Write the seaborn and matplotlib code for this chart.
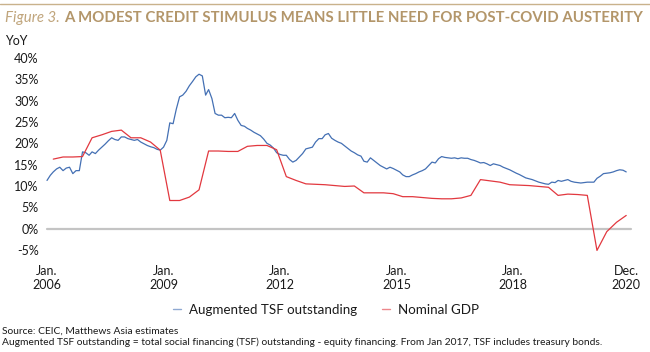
import numpy as np
import pandas as pd
import matplotlib
matplotlib.use("Agg")
import matplotlib.pyplot as plt
import matplotlib.dates as mdates
from matplotlib.lines import Line2D
import seaborn as sns

# ---------------- data ----------------
tsf_start = "2006-01-01"
tsf_yoy = [
    # 2006
    11.3, 12.5, 13.3, 14.0, 14.4, 13.6, 14.2, 14.4, 12.9, 13.6, 13.6, 18.0,
    # 2007
    17.8, 17.2, 18.0, 17.6, 18.4, 19.1, 19.8, 20.6, 21.3, 20.9, 20.7, 21.5,
    # 2008
    21.5, 21.1, 20.9, 20.7, 20.9, 20.3, 19.9, 19.5, 19.2, 19.0, 18.6, 18.4,
    # 2009
    19.1, 20.7, 24.8, 24.6, 28.0, 30.9, 31.3, 32.2, 33.5, 34.5, 35.6, 36.2,
    # 2010
    35.8, 31.3, 32.6, 30.5, 27.0, 26.6, 26.6, 26.0, 26.1, 26.0, 27.0, 25.4,
    # 2011
    24.2, 24.0, 23.5, 23.1, 22.6, 22.2, 21.8, 21.0, 20.0, 19.6, 18.9, 17.8,
    # 2012
    17.4, 17.2, 17.2, 16.2, 15.6, 16.0, 16.8, 17.6, 18.7, 18.9, 19.1, 20.3,
    # 2013
    21.1, 21.1, 22.0, 22.3, 21.2, 20.7, 20.3, 20.0, 19.4, 18.8, 18.2, 17.8,
    # 2014
    17.3, 17.0, 15.8, 15.6, 16.6, 16.0, 15.4, 14.8, 14.4, 14.0, 14.4, 14.1,
    # 2015
    13.7, 13.3, 12.6, 12.2, 12.2, 12.6, 12.9, 13.3, 13.6, 14.0, 14.8, 15.6,
    # 2016
    15.4, 16.4, 16.9, 16.7, 16.6, 16.5, 16.6, 16.4, 16.6, 16.5, 16.5, 16.2,
    # 2017
    16.0, 15.7, 15.4, 15.5, 15.2, 14.8, 15.2, 15.0, 14.8, 14.4, 14.1, 13.8,
    # 2018
    13.4, 13.0, 12.7, 12.3, 11.9, 11.7, 11.5, 11.2, 10.9, 10.7, 10.5, 10.4,
    # 2019
    10.9, 10.8, 11.3, 11.1, 11.3, 11.5, 11.1, 10.9, 10.8, 10.7, 10.8, 10.9,
    # 2020
    10.9, 10.9, 11.8, 12.3, 12.9, 13.0, 13.1, 13.3, 13.6, 13.8, 13.7, 13.3,
]

gdp_start = "2006-03-01"
gdp_yoy = [
    16.3, 16.8, 16.8, 16.9,   # 2006
    21.3, 22.0, 22.8, 23.1,   # 2007
    21.3, 21.3, 20.3, 18.4,   # 2008
    6.6, 6.6, 7.4, 9.1,       # 2009
    18.2, 18.2, 18.1, 18.1,   # 2010
    19.3, 19.5, 19.5, 18.5,   # 2011
    12.2, 11.3, 10.5, 10.4,   # 2012
    10.3, 10.1, 9.9, 10.0,    # 2013
    8.4, 8.4, 8.4, 8.2,       # 2014
    7.5, 7.5, 7.3, 7.1,       # 2015
    7.0, 7.0, 7.2, 7.8,       # 2016
    11.5, 11.2, 10.9, 10.3,   # 2017
    10.2, 10.1, 9.9, 9.7,     # 2018
    7.8, 8.1, 8.0, 7.8,       # 2019
    -5.1, -0.7, 1.5, 3.1,     # 2020
]

series_names = ["Augmented TSF outstanding", "Nominal GDP"]
tick_dates = ["2006-01-01", "2009-01-01", "2012-01-01", "2015-01-01", "2018-01-01", "2020-12-01"]
tick_labels = ["Jan.\n2006", "Jan.\n2009", "Jan.\n2012", "Jan.\n2015", "Jan.\n2018", "Dec.\n2020"]
y_ticks = [-5, 0, 5, 10, 15, 20, 25, 30, 35, 40]

title_lead = "Figure 3."
title_main = "A MODEST CREDIT STIMULUS MEANS LITTLE NEED FOR POST-COVID AUSTERITY"
source_text = "Source: CEIC, Matthews Asia estimates"
note_text = ("Augmented TSF outstanding = total social financing (TSF) outstanding - equity financing. "
             "From Jan 2017, TSF includes treasury bonds.")

# ---------------- frame ----------------
tsf_df = pd.DataFrame({
    "date": pd.date_range(tsf_start, periods=len(tsf_yoy), freq="MS"),
    "value": tsf_yoy,
    "series": series_names[0],
})
gdp_df = pd.DataFrame({
    "date": pd.date_range(gdp_start, periods=len(gdp_yoy), freq="3MS"),
    "value": gdp_yoy,
    "series": series_names[1],
})
df = pd.concat([tsf_df, gdp_df], ignore_index=True)

# ---------------- style ----------------
sns.set_theme(style="white")
FONT = "Lato"
plt.rcParams["font.family"] = [FONT, "DejaVu Sans"]

W, H = 650, 352
fig = plt.figure(figsize=(W / 100, H / 100), dpi=100)
fig.patch.set_facecolor("white")

def fx(px):
    return px / W

def fy(py):
    return 1 - py / H

ax_left, ax_right, ax_top, ax_bottom = 47, 631, 58, 250
ax = fig.add_axes([fx(ax_left), fy(ax_bottom), fx(ax_right - ax_left), (ax_bottom - ax_top) / H])
ax.set_facecolor("white")

palette = {series_names[0]: "#4470b4", series_names[1]: "#e2383f"}

ax.axhline(0, color="#c4c4c4", lw=1.6, zorder=1)

sns.lineplot(data=df, x="date", y="value", hue="series", palette=palette,
             linewidth=0.9, legend=False, ax=ax, zorder=3)
for ln in ax.lines:
    ln.set_clip_on(False)

ax.set_xlim(pd.Timestamp("2006-01-01"), pd.Timestamp("2021-01-15"))
ax.set_ylim(-5, 40)
ax.set_yticks(y_ticks)
ax.set_yticklabels([f"{v}%" for v in y_ticks])
ax.set_xticks([mdates.date2num(pd.Timestamp(d)) for d in tick_dates])
ax.set_xticklabels(tick_labels, linespacing=1.15)
ax.tick_params(axis="both", length=0, labelsize=9.0, colors="#1a1a1a")
ax.tick_params(axis="y", pad=6)
ax.tick_params(axis="x", pad=11)
ax.set_xlabel("")
ax.set_ylabel("")
for s in ax.spines.values():
    s.set_visible(False)
ax.grid(False)

# YoY label
fig.text(fx(5), fy(45), "YoY", fontsize=9.0, color="#1a1a1a", ha="left", va="baseline")

# legend
handles = [Line2D([0], [0], color=palette[n], lw=1.0, alpha=0.6) for n in series_names]
leg = fig.legend(handles, series_names, loc="center", bbox_to_anchor=(fx(326), fy(310)),
                 ncol=2, frameon=False, fontsize=9.6, handlelength=0.6, handletextpad=0.6,
                 columnspacing=1.8, borderpad=0)
for t in leg.get_texts():
    t.set_color("#1a1a1a")

# top rule
fig.add_artist(Line2D([0, 1], [fy(3.5), fy(3.5)], color="#c9b28c", lw=1.0, transform=fig.transFigure))

# title, fitted to width
tan = "#b3966a"
t1 = fig.text(fx(5), fy(21.7), title_lead, fontsize=10.5, style="italic", color="#c0a57c",
              ha="left", va="baseline")
t2 = fig.text(0, fy(21.7), title_main, fontsize=10.5, weight="bold", color=tan,
              ha="left", va="baseline")

def layout_title():
    fig.canvas.draw()
    r = fig.canvas.get_renderer()
    w1 = t1.get_window_extent(r).width
    space = t1.get_fontsize() * 100 / 72 * 0.28
    t2.set_x(fx(5 + w1 + space))
    fig.canvas.draw()
    w2 = t2.get_window_extent(r)
    return w2.x1 - 5

for _ in range(3):
    total = layout_title()
    scale = 638 / total
    t1.set_fontsize(t1.get_fontsize() * scale)
    t2.set_fontsize(t2.get_fontsize() * scale)
layout_title()

# footnotes
s1 = fig.text(fx(2), fy(333.5), source_text, fontsize=7.2, color="#1a1a1a", ha="left", va="baseline")
s2 = fig.text(fx(2), fy(345), note_text, fontsize=7.2, color="#1a1a1a", ha="left", va="baseline")
fig.canvas.draw()
r = fig.canvas.get_renderer()
w = s2.get_window_extent(r).width
sc = 603 / w
s1.set_fontsize(7.2 * sc)
s2.set_fontsize(7.2 * sc)

fig.savefig("out.png", dpi=100, facecolor="white")
